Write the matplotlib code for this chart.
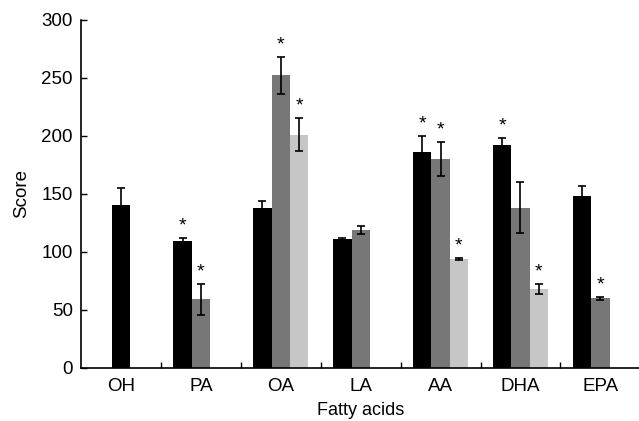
import matplotlib.pyplot as plt
import numpy as np

plt.rcParams['font.family'] = ['Liberation Sans', 'DejaVu Sans']

cats = ['OH', 'PA', 'OA', 'LA', 'AA', 'DHA', 'EPA']
# series per category: (black, grey, light); None = absent
black = [140, 109, 138, 111, 186, 192, 148]
black_err = [15, 3, 6, 1, 14, 6, 9]
black_sig = [False, True, False, False, True, True, False]
grey = [None, 59, 252, 119, 180, 138, 60]
grey_err = [None, 13, 16, 3.5, 15, 22, 1.5]
grey_sig = [False, True, True, False, True, False, True]
light = [None, None, 201, None, 94, 68, None]
light_err = [None, None, 14, None, 1, 4, None]
light_sig = [False, False, True, False, True, True, False]

fig = plt.figure(figsize=(6.39, 4.21), dpi=100)
ax = fig.add_axes([0.127, 0.126, 0.875, 0.827])

w = 0.23
series = [(black, black_err, black_sig, '#000000', -1),
          (grey, grey_err, grey_sig, '#777777', 0),
          (light, light_err, light_sig, '#c6c6c6', 1)]
for vals, errs, sig, col, off in series:
    for i, v in enumerate(vals):
        if v is None:
            continue
        o = off
        if cats[i] == 'OH':
            o = 0
        x = i + o * w
        ax.bar(x, v, width=w, color=col, edgecolor='none', zorder=2)
        ax.errorbar(x, v, yerr=errs[i], fmt='none', ecolor='black',
                    elinewidth=1.2, capsize=3.2, capthick=1.2, zorder=3)
        if sig[i]:
            ax.text(x, v + errs[i] + 3, '*', ha='center', va='bottom',
                    fontsize=14)

ax.set_xlim(-0.5, 6.5)
ax.set_ylim(0, 300)
ax.set_xticks(range(len(cats)))
ax.set_xticklabels(cats, fontsize=13.5)
ax.set_xticks(np.arange(0.5, 6.5, 1), minor=True)
ax.tick_params(axis='x', which='major', length=0, pad=7)
ax.tick_params(axis='x', which='minor', direction='in', length=4, width=1)
ax.set_yticks([0, 50, 100, 150, 200, 250, 300])
ax.tick_params(axis='y', direction='in', length=4, width=1, labelsize=13.5, pad=6)
ax.spines['top'].set_visible(False)
ax.spines['right'].set_visible(False)
ax.spines['left'].set_linewidth(1.2)
ax.spines['bottom'].set_linewidth(1.2)
ax.set_xlabel('Fatty acids', fontsize=13, labelpad=5)
ax.set_ylabel('Score', fontsize=13.5, labelpad=8)

fig.savefig('out.png', dpi=100)
